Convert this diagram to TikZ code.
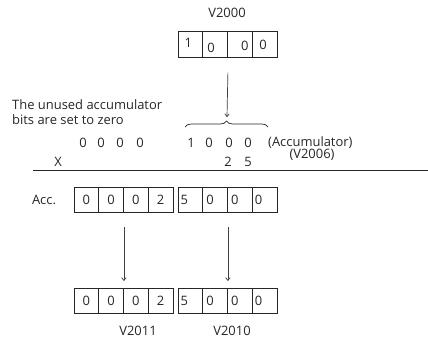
\documentclass[tikz,border=0pt]{standalone}
\usepackage{fontspec}
\setmainfont{Open Sans}
\usetikzlibrary{decorations.pathreplacing, arrows.meta, calc}

\tikzset{
  cell/.style={draw=black!85, line width=0.8bp, minimum width=24.75bp, minimum height=25.5bp, inner sep=0pt},
  txt/.style={font=\fontsize{13}{15}\selectfont, text=black!85, inner sep=0pt},
  flow/.style={-{To[length=3.5bp,width=5bp]}, line width=0.7bp, black!75},
  rule/.style={line width=0.8bp, black!85},
  curly/.style={decorate, decoration={brace, amplitude=6bp}, line width=0.7bp, black!85},
}

\begin{document}
\begin{tikzpicture}[x=1bp, y=-1bp]
  \useasboundingbox (0,0) rectangle (428,341);

  % Register macro: name, left edge, centre y, digit/dx/dy list
  \def\register#1#2#3#4{
    \foreach \d/\dx/\dy [count=\i] in {#4} {
      \node[cell] (#1\i) at ({#2+24.75*(\i-0.5)},#3) {};
      \node[txt] (#1d\i) at ([shift={(\dx,\dy)}]#1\i.center) {\d};
    }
  }

  % Source register V2000
  \node[txt] (v2000) at (227,13) {V2000};
  \register{top}{178}{44.5}{1/-2/-1.5, 0/-4/3.5, 0/5/1.5, 0/-1.5/0}
  \coordinate (bracetip) at (227,117);
  \draw[flow] ([yshift=-15bp]top2.south east) -- (bracetip);
  \draw[curly] (185,127) -- (268,127);

  % Note on the unused bits
  \node[txt, anchor=west, align=left] (note) at (12,112) {The unused accumulator\\bits are set to zero};

  % Accumulator contents and multiplier
  \foreach \d/\x [count=\i] in {0/83, 0/101, 0/120, 0/140, 1/191, 0/209, 0/229, 0/248}
    \node[txt] (bit\i) at (\x,143) {\d};
  \node[txt, anchor=west] (acclabel) at (268,143) {(Accumulator)};
  \node[txt] (v2006) at (312,155) {(V2006)};
  \node[txt] (mulx) at (58,162) {X};
  \node[txt] (two) at (228,162) {2};
  \node[txt] (five) at (248,162) {5};
  \coordinate (ruleL) at (33,170);
  \coordinate (ruleR) at (428,170);
  \draw[rule] (ruleL) -- (ruleR);

  % Result in the accumulator
  \node[txt] (acc) at (44,200) {Acc.};
  \register{accL}{74}{200}{0/0/0, 0/0/0, 0/0/0, 2/0/0}
  \register{accR}{178}{200}{5/-6/0, 0/-5/0, 0/-5/0, 0/-6/0}

  % Copied to V2011 and V2010
  \register{outL}{74}{301}{0/0/0, 0/0/0, 0/0/0, 2/0/0}
  \register{outR}{178}{301}{5/-6/0, 0/-5/0, 0/-5/0, 0/-6/0}
  \draw[flow] ([yshift=-14bp]accL2.south east) -- ([yshift=7bp]outL2.north east);
  \draw[flow] ([yshift=-14bp]accR2.south east) -- ([yshift=7bp]outR2.north east);
  \node[txt] (v2011) at (138,331) {V2011};
  \node[txt] (v2010) at (232,331) {V2010};
\end{tikzpicture}
\end{document}
